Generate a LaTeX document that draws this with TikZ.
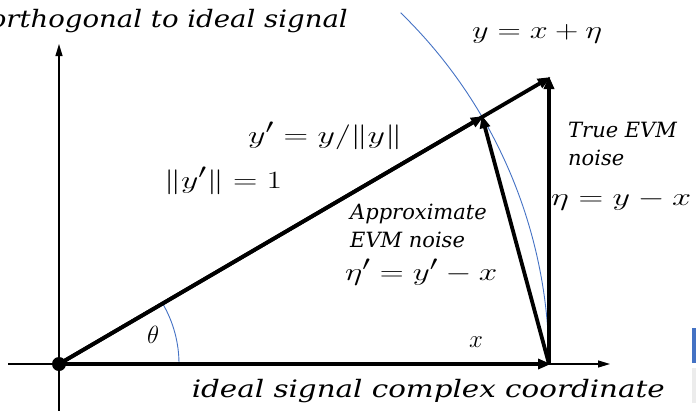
\documentclass[tikz,border=0pt]{standalone}
\usepackage{fontspec}
\usepackage{graphicx}
\newfontfamily\itf{DejaVu Serif}
\usetikzlibrary{arrows.meta,calc}
\definecolor{officeblue}{RGB}{68,114,196}
\newcommand{\fitw}[2]{\resizebox{#1}{\height}{#2}}
\begin{document}
\begin{tikzpicture}[x=1pt,y=-1pt,
  thin axis/.style={line width=1.2pt,-{Triangle[length=12pt,width=7pt]}},
  vec/.style={line width=3.8pt,-{Triangle[length=13pt,width=10pt]}, shorten >=-2pt},
  bluearc/.style={draw=officeblue,line width=0.9pt},
  mlab/.style={inner sep=0pt,font=\fontsize{31}{34}\selectfont},
  tlab/.style={inner sep=0pt,font=\itf\itshape\fontsize{24}{28}\selectfont},
  slab/.style={inner sep=0pt,font=\itf\itshape\fontsize{21}{28}\selectfont, align=left}]
\useasboundingbox (0,0) rectangle (696,410);
\coordinate (O) at (59,364);
\coordinate (X) at (549,364);
\coordinate (Y) at (549,78);
\coordinate (Yp) at ($(O)+(-30.27:490)$);
% axes
\coordinate (HL) at (8,364);
\coordinate (HR) at (610,364);
\coordinate (VB) at (59,412);
\coordinate (VT) at (59,44);
\draw[thin axis] (HL) -- (HR);
\draw[thin axis] (VB) -- (VT);
% arcs
\draw[bluearc] (X) arc[start angle=0,end angle=-45.8,radius=490];
\draw[bluearc] (179,364) arc[start angle=0,end angle=-30.27,radius=120];
% vectors
\draw[vec] (O) -- (X);
\draw[vec] (O) -- (Y);
\draw[vec] (O) -- (Yp);
\draw[vec] (X) -- (Y);
\draw[vec] (X) -- (Yp);
\fill (O) circle[radius=7];
% labels
\node[tlab,anchor=base east] (t1) at (348,27) {\fitw{358pt}{orthogonal to ideal signal}};
\node[tlab,anchor=base east] (t2) at (665,397) {\fitw{473pt}{ideal signal complex coordinate}};
\node[mlab,anchor=base west] (m1) at (472,38) {\fitw{130pt}{$y=x+\eta$}};
\node[mlab,anchor=base west] (m2) at (248,143) {\fitw{154pt}{$y'=y/\|y\|$}};
\node[mlab,anchor=base west] (m3) at (164,188) {\fitw{118pt}{$\|y'\|=1$}};
\node[mlab,anchor=base west] (m4) at (345,280) {\fitw{152pt}{$\eta'=y'-x$}};
\node[mlab,anchor=base west] (m5) at (551,205) {\fitw{140pt}{$\eta=y-x$}};
\node[inner sep=0pt,font=\fontsize{33}{36}\selectfont,anchor=base west] (m6) at (469,347) {$x$};
\node[inner sep=0pt,font=\fontsize{25}{28}\selectfont,anchor=base west] (th) at (147,343) {$\theta$};
\node[slab,anchor=base west] (a1) at (350,247) {Approximate\\EVM noise};
\node[slab,anchor=base west] (a2) at (568,165) {True EVM\\noise};
% screenshot artefacts
\fill[officeblue] (692,328) rectangle (696,363);
\fill[gray!15] (692,368) rectangle (696,403);
\end{tikzpicture}
\end{document}
